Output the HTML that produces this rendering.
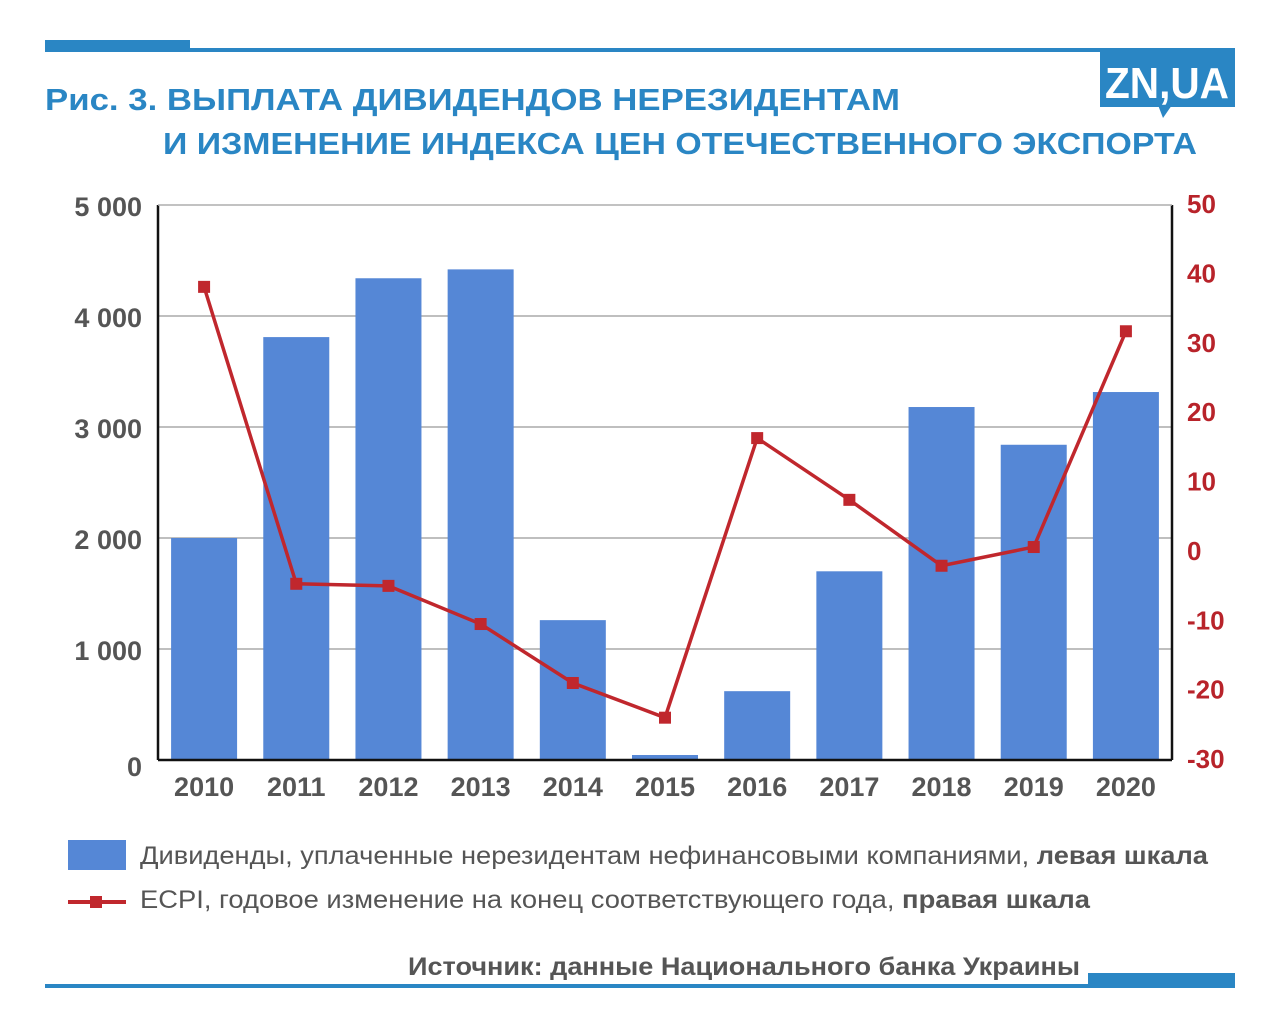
<!DOCTYPE html>
<html><head><meta charset="utf-8"><style>
html,body{margin:0;padding:0;background:#fff;}
svg{display:block;font-family:"Liberation Sans","DejaVu Sans",sans-serif;}
</style></head><body>
<svg id="chart" width="1280" height="1027" viewBox="0 0 1280 1027">
  <rect x="45" y="40" width="145" height="12" fill="#2a86c4"/>
  <rect x="190" y="48" width="1045" height="4" fill="#2a86c4"/>
  <g>
    <rect x="1100" y="52" width="135" height="55" fill="#2a86c4"/>
    <polygon points="1158,105 1172,105 1163,118" fill="#2a86c4"/>
    <text x="1167" y="98" text-anchor="middle" font-size="44" font-weight="bold" fill="#fff" textLength="124" lengthAdjust="spacingAndGlyphs">ZN,UA</text>
  </g>
  <text x="45" y="110" font-size="31" font-weight="bold" fill="#2a86c4" textLength="855" lengthAdjust="spacingAndGlyphs">Рис. 3. ВЫПЛАТА ДИВИДЕНДОВ НЕРЕЗИДЕНТАМ</text>
  <text x="163" y="154" font-size="31" font-weight="bold" fill="#2a86c4" textLength="1034" lengthAdjust="spacingAndGlyphs">И ИЗМЕНЕНИЕ ИНДЕКСА ЦЕН ОТЕЧЕСТВЕННОГО ЭКСПОРТА</text>
  <g id="grid"></g>
  <g id="bars"></g>
  <g id="line"></g>
  <g id="axes"></g>
  <g>
    <rect x="68" y="840" width="58" height="30" fill="#5587d6"/>
    <text x="140" y="864" font-size="25" fill="#555" textLength="1068" lengthAdjust="spacingAndGlyphs">Дивиденды, уплаченные нерезидентам нефинансовыми компаниями, <tspan font-weight="bold">левая шкала</tspan></text>
    <line x1="68" y1="902" x2="126" y2="902" stroke="#c0272d" stroke-width="4"/>
    <rect x="90" y="896" width="12" height="12" fill="#c0272d"/>
    <text x="140" y="908" font-size="25" fill="#555" textLength="950" lengthAdjust="spacingAndGlyphs">ECPI, годовое изменение на конец соответствующего года, <tspan font-weight="bold">правая шкала</tspan></text>
  </g>
  <text x="408" y="975" font-size="25" font-weight="bold" fill="#555" textLength="672" lengthAdjust="spacingAndGlyphs">Источник: данные Национального банка Украины</text>
  <rect x="45" y="984" width="1190" height="4" fill="#2a86c4"/>
  <rect x="1088" y="973" width="147" height="15" fill="#2a86c4"/>
</svg>
<script>
const years = ["2010","2011","2012","2013","2014","2015","2016","2017","2018","2019","2020"];
const dividends = [2000,3810,4340,4420,1260,45,620,1700,3180,2840,3315];
const ecpi = [38.2,-4.6,-4.9,-10.4,-18.9,-23.9,16.4,7.5,-2.0,0.7,31.8];
const leftTicks = [0,1000,2000,3000,4000,5000];
const leftTickLabels = ["0","1 000","2 000","3 000","4 000","5 000"];
const rightTicks = [-30,-20,-10,0,10,20,30,40,50];

const NS = "http://www.w3.org/2000/svg";
const L = 158, R = 1172, T = 205, B = 760;
const band = (R - L) / years.length;
function xC(i){ return L + band * (i + 0.5); }
function yL(v){ return B - (v / 5000) * (B - T); }
function yR(v){ return B - ((v + 30) / 80) * (B - T); }
function mk(tag, attrs, parent){
  const e = document.createElementNS(NS, tag);
  for (const k in attrs) e.setAttribute(k, attrs[k]);
  parent.appendChild(e); return e;
}
const grid = document.getElementById("grid"), bars = document.getElementById("bars"),
      line = document.getElementById("line"), axes = document.getElementById("axes");

leftTicks.forEach((t, i) => {
  if (t > 0) {
    const g = mk("line", {x1:L, x2:R, y1:yL(t), y2:yL(t), stroke:"#aaa", "stroke-width":1.5}, grid);
    
    
  }
  const tx = mk("text", {x:142, y:yL(t) + (t===0?16:11), "text-anchor":"end", "font-size":27, "font-weight":"bold", fill:"#555"}, axes);
  tx.textContent = leftTickLabels[i];
  
  
});
rightTicks.forEach(t => {
  const tx = mk("text", {x:1187, y:yR(t) + 8, "font-size":26, "font-weight":"bold", fill:"#b8232a"}, axes);
  tx.textContent = String(t);
  
  
});

years.forEach((y, i) => {
  const b = mk("rect", {x:xC(i) - 33, y:yL(dividends[i]), width:66, height:B - yL(dividends[i]), fill:"#5587d6"}, bars);
  
  
  const tx = mk("text", {x:xC(i), y:796, "text-anchor":"middle", "font-size":27, "font-weight":"bold", fill:"#555"}, axes);
  tx.textContent = y;
  
  
});

const al = mk("line", {x1:L, x2:L, y1:T, y2:B, stroke:"#111", "stroke-width":2.5}, axes);


const ar = mk("line", {x1:R, x2:R, y1:T, y2:B, stroke:"#111", "stroke-width":2.5}, axes);


const ab = mk("line", {x1:L, x2:R, y1:B, y2:B, stroke:"#111", "stroke-width":2.5}, axes);


const at = mk("line", {x1:L, x2:R, y1:T, y2:T, stroke:"#bbb", "stroke-width":1.5}, axes);



const pts = ecpi.map((v, i) => xC(i) + "," + yR(v)).join(" ");
const pl = mk("polyline", {points:pts, fill:"none", stroke:"#c0272d", "stroke-width":3.5}, line);


ecpi.forEach((v, i) => {
  const m = mk("rect", {x:xC(i) - 6, y:yR(v) - 6, width:12, height:12, fill:"#c0272d"}, line);
  
  
});
</script>
</body></html>
